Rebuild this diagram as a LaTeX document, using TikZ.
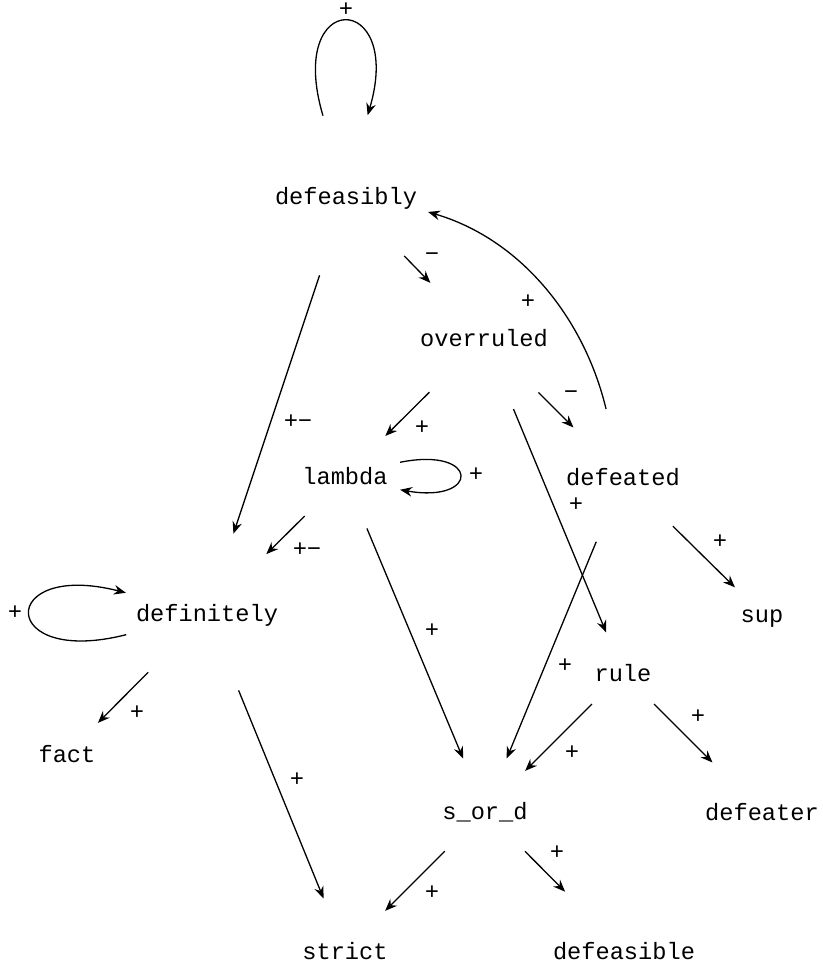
\documentclass[tikz,border=0pt]{standalone}
\usepackage{fontspec}
\setmonofont{Liberation Mono}
\newfontfamily\signfont{Liberation Sans}
\usetikzlibrary{arrows.meta}

\def\fs{\fontsize{11.83}{14}\selectfont}

\begin{document}
\begin{tikzpicture}[x=0.5pt, y=-0.5pt, line width=0.65pt, >={Stealth[length=6pt,width=4.8pt,inset=2pt]},
	every node/.style={circle,inner sep=5pt,outer sep=0pt,text height=10pt,text depth=1.5pt,font=\fs\ttfamily},
	sgn/.style={rectangle,inner sep=0pt,text height=6.6pt,text depth=0pt,font=\fs\signfont}]

		\useasboundingbox (0,0) rectangle (823,966);

		\node (defeasibly) at (346,196) {defeasibly};
		\node (overruled) at (484,338) {overruled};
		\node (lambda) at (345,476) {lambda};
		\node (defeated) at (623,477) {defeated};
		\node (definitely) at (207,613) {definitely};
		\node (sup) at (762,614) {sup};
		\node (rule) at (623,673) {rule};
		\node (fact) at (67,754) {fact};
		\node (sord) at (485,811) {s\_or\_d};
		\node (defeater) at (762,812) {defeater};
		\node (strict) at (345,951) {strict};
		\node (defeasible) at (624,951) {defeasible};

		\draw[->] (defeasibly.106) .. controls +(-38,-128) and +(37,-125) .. (defeasibly.75);
		\draw[->] (defeasibly) -- (overruled);
		\draw[->] (defeasibly) -- (definitely);
		\draw[->] (defeated.104) .. controls +(-21,-88) and +(95,28) .. (defeasibly.-11);
		\draw[->] (overruled) -- (lambda);
		\draw[->] (overruled) -- (defeated);
		\draw[->] (overruled) -- (rule);
		\draw[->] (lambda.14) .. controls +(80,-16) and +(80,14) .. (lambda.-14);
		\draw[->] (lambda) -- (definitely);
		\draw[->] (lambda) -- (sord);
		\draw[->] (defeated) -- (sup);
		\draw[->] (defeated) -- (sord);
		\draw[->] (definitely.195) .. controls +(-129,33) and +(-129,-33) .. (definitely.166);
		\draw[->] (definitely) -- (fact);
		\draw[->] (definitely) -- (strict);
		\draw[->] (rule) -- (sord);
		\draw[->] (rule) -- (defeater);
		\draw[->] (sord) -- (strict);
		\draw[->] (sord) -- (defeasible);

		\node[sgn] (s1) at (346,10) {+};
		\node[sgn] (s2) at (432,255) {−};
		\node[sgn] (s3) at (298,422) {+−};
		\node[sgn] (s4) at (528,302) {+};
		\node[sgn] (s5) at (422,428) {+};
		\node[sgn] (s6) at (571,393) {−};
		\node[sgn] (s7) at (576,505) {+};
		\node[sgn] (s8) at (476,475) {+};
		\node[sgn] (s9) at (307,550) {+−};
		\node[sgn] (s10) at (432,631) {+};
		\node[sgn] (s11) at (720,542) {+};
		\node[sgn] (s12) at (565,666) {+};
		\node[sgn] (s13) at (15,613) {+};
		\node[sgn] (s14) at (137,713) {+};
		\node[sgn] (s15) at (297,780) {+};
		\node[sgn] (s16) at (572,753) {+};
		\node[sgn] (s17) at (698,717) {+};
		\node[sgn] (s18) at (432,893) {+};
		\node[sgn] (s19) at (557,853) {+};

	\end{tikzpicture}
\end{document}
